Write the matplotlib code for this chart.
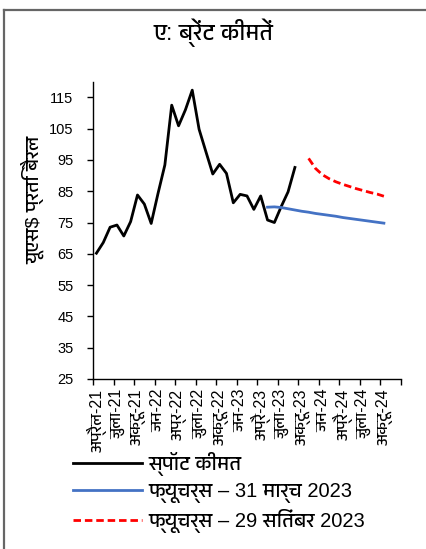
import matplotlib
matplotlib.use("Agg")
import matplotlib.pyplot as plt
from matplotlib import font_manager, ft2font
from matplotlib.lines import Line2D

# महीने: अप्रैल-21 = 0 ... दिसंबर-24 = 44
spot_months = list(range(0, 30))
spot_price = [65.2, 68.6, 73.5, 74.2, 70.7, 75.3, 83.8, 80.9, 74.7, 84.3,
              93.4, 112.5, 105.9, 111.0, 117.3, 104.8, 97.6, 90.5, 93.6, 90.7,
              81.3, 84.0, 83.5, 79.2, 83.5, 75.8, 75.0, 80.1, 84.8, 92.6]

fut_mar_months = list(range(25, 43))
fut_mar_price = [79.9, 80.0, 79.8, 79.4, 79.0, 78.6, 78.3, 77.9, 77.6, 77.3,
                 77.0, 76.6, 76.3, 76.0, 75.7, 75.4, 75.1, 74.8]

fut_sep_months = list(range(31, 43))
fut_sep_price = [95.5, 92.3, 90.3, 89.0, 88.0, 87.2, 86.5, 85.8, 85.2, 84.6,
                 84.1, 83.4]

tick_labels = ["अप्रैल-21", "जुला-21", "अक्टू-21", "जन-22", "अप्र-22", "जुला-22",
               "अक्टू-22", "जन-23", "अप्रै-23", "जुला-23", "अक्टू-23", "जन-24",
               "अप्रै-24", "जुला-24", "अक्टू-24"]
y_ticks = [25, 35, 45, 55, 65, 75, 85, 95, 105, 115]

title = "ए: ब्रेंट कीमतें"
y_label = "यूएस$ प्रति बैरल"
legend_labels = ["स्पॉट कीमत", "फ्यूचर्स – 31 मार्च 2023", "फ्यूचर्स – 29 सितंबर 2023"]


def devanagari_font():
    # जिन फ़ॉन्ट में 'क' (U+0915) है, उनमें से mono को छोड़कर sans को पहले लो
    found = []
    for path in sorted(font_manager.findSystemFonts()):
        try:
            if 0x0915 in ft2font.FT2Font(path).get_charmap():
                found.append((font_manager.FontProperties(fname=path).get_name(), path))
        except Exception:
            continue
    if not found:
        return None

    def rank(item):
        name = item[0].lower()
        r = 0
        if "mono" in name:
            r += 10
        if "serif" in name:
            r += 3
        if "devanagari" not in name:
            r += 1
        if "bold" in item[1].lower():
            r += 5
        return r

    name, path = sorted(found, key=rank)[0]
    font_manager.fontManager.addfont(path)
    return name


deva = devanagari_font()
fams = ["Liberation Sans"] + ([deva] if deva else []) + ["DejaVu Sans"]
plt.rcParams["font.family"] = fams

fig = plt.figure(figsize=(4.27, 5.49), dpi=100)
ax = fig.add_axes([93 / 427, 1 - 379 / 549, (401 - 93) / 427, (379 - 81.7) / 549])

# फ्रेम: ऊपर और बाईं ओर की रेखा
fig.add_artist(Line2D([4 / 427, 4 / 427], [0, 1 - 10 / 549], color="#666666", lw=1.6))
fig.add_artist(Line2D([4 / 427, 1], [1 - 10 / 549, 1 - 10 / 549], color="#666666", lw=1.6))

dash = (0, (2.7, 1.4))
ax.plot(spot_months, spot_price, color="black", lw=2)
ax.plot(fut_mar_months, fut_mar_price, color="#4472C4", lw=2)
ax.plot(fut_sep_months, fut_sep_price, color="red", lw=2, ls=dash)

ax.set_xlim(-0.5, 44.5)
ax.set_ylim(25, 120)
ax.set_yticks(y_ticks)
ax.tick_params(axis="y", labelsize=10.5, length=4, width=1, pad=10)

# बड़े टिक तिमाही की सीमाओं पर, लेबल महीने के बीच में
ax.set_xticks([q * 3 - 0.5 for q in range(16)])
ax.set_xticklabels([])
ax.set_xticks([q * 3 for q in range(15)], minor=True)
ax.set_xticklabels(tick_labels, minor=True, rotation=90, fontsize=11.5)
ax.tick_params(axis="x", which="major", length=4, width=1)
ax.tick_params(axis="x", which="minor", length=0, pad=7)

for s in ["top", "right"]:
    ax.spines[s].set_visible(False)
for s in ["left", "bottom"]:
    ax.spines[s].set_linewidth(1)

fig.text(33 / 427, 1 - 200 / 549, y_label, rotation=90, ha="center", va="center",
         fontsize=14)
fig.text(213 / 427, 1 - 33 / 549, title, ha="center", va="center", fontsize=16.5)

handles = [Line2D([], [], color="black", lw=2),
           Line2D([], [], color="#4472C4", lw=2),
           Line2D([], [], color="red", lw=2, ls=dash)]
fig.legend(handles, legend_labels, loc="upper left",
           bbox_to_anchor=(73 / 427, 1 - 452 / 549), frameon=False,
           borderpad=0, borderaxespad=0,
           fontsize=14.5, handlelength=3.43, handletextpad=0.3, labelspacing=0.3)

fig.savefig("out.png", dpi=100)
